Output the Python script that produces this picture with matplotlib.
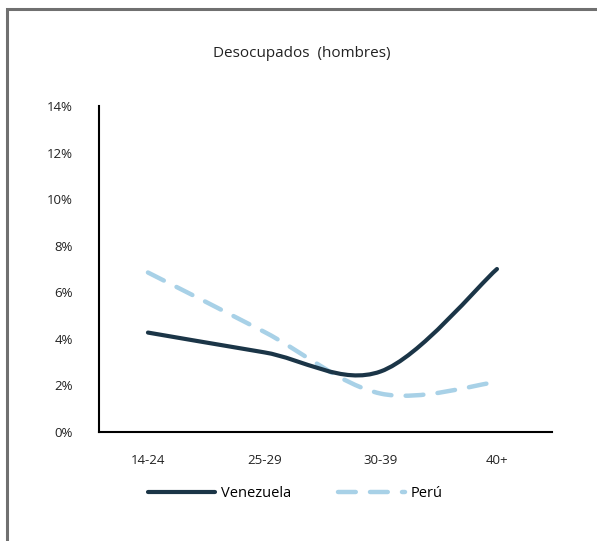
import numpy as np
import matplotlib.pyplot as plt
from matplotlib.path import Path
from matplotlib.patches import PathPatch, Rectangle
from matplotlib.lines import Line2D

edades = ['14-24', '25-29', '30-39', '40+']
venezuela = [4.27, 3.42, 2.6, 7.0]
peru = [6.85, 4.3, 1.65, 2.15]

plt.rcParams['font.family'] = ['Open Sans', 'DejaVu Sans']

oscuro = '#1b3547'
claro = '#a8d1e7'


def curva_suave(x, y):
    # curva de Bezier tipo Catmull-Rom que pasa por cada punto
    pts = np.column_stack([x, y]).astype(float)
    n = len(pts)
    verts = [pts[0]]
    codes = [Path.MOVETO]
    for i in range(n - 1):
        p0 = pts[max(i - 1, 0)]
        p1 = pts[i]
        p2 = pts[i + 1]
        p3 = pts[min(i + 2, n - 1)]
        c1 = p1 + (p2 - p0) / 6.0
        c2 = p2 - (p3 - p1) / 6.0
        verts += [c1, c2, p2]
        codes += [Path.CURVE4] * 3
    return Path(verts, codes)


fig = plt.figure(figsize=(5.97, 5.41), dpi=100)
ax = fig.add_axes([0.1658, 0.2015, 0.7588, 0.6025])

x = np.arange(len(edades))

ax.add_patch(PathPatch(curva_suave(x, venezuela), facecolor='none',
                       edgecolor=oscuro, lw=3.0, capstyle='round',
                       joinstyle='round', zorder=3))
ax.add_patch(PathPatch(curva_suave(x, peru), facecolor='none',
                       edgecolor=claro, lw=3.2, capstyle='round',
                       linestyle=(0, (4.0, 3.2)), zorder=2))

ax.set_xlim(-0.421, 3.473)
ax.set_ylim(0, 14)
ax.set_xticks(x)
ax.set_xticklabels(edades, fontsize=9.5, color='#222222')
ax.set_yticks(np.arange(0, 15, 2))
ax.set_yticklabels([f'{v}%' for v in range(0, 15, 2)], fontsize=9.5, color='#222222')
ax.tick_params(axis='y', length=0, pad=19)
ax.tick_params(axis='x', length=0, pad=16)
for s in ['top', 'right']:
    ax.spines[s].set_visible(False)
for s in ['left', 'bottom']:
    ax.spines[s].set_linewidth(1.5)
    ax.spines[s].set_color('black')

fig.text(0.506, 0.902, 'Desocupados  (hombres)', ha='center', va='center',
         fontsize=11, color='#222222')

handles = [
    Line2D([], [], color=oscuro, lw=3.0, solid_capstyle='round'),
    Line2D([], [], color=claro, lw=3.2, dash_capstyle='round',
           linestyle=(0, (4.0, 3.2))),
]
fig.legend(handles, ['Venezuela', 'Perú'], loc='center', ncol=2,
           bbox_to_anchor=(0.495, 0.088), frameon=False, fontsize=10.5,
           handlelength=4.6, columnspacing=3.2, handletextpad=0.4)

# marco gris alrededor del grafico
fig.patches.append(Rectangle((7 / 597, -0.05), 1.2, 1 - 9 / 541 + 0.05,
                             transform=fig.transFigure, fill=False,
                             edgecolor='#707070', lw=2.2))

fig.savefig('out.png', dpi=100)
